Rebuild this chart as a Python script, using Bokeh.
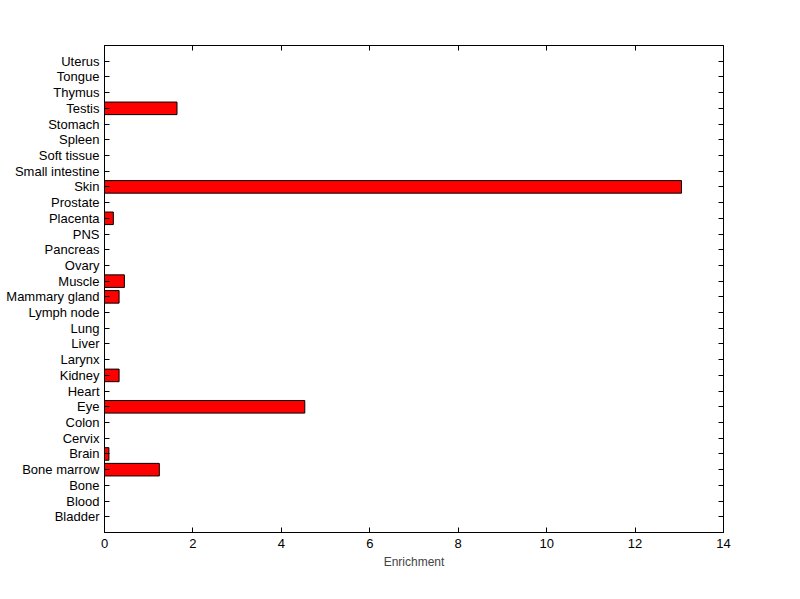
from bokeh.plotting import figure
from bokeh.models import FixedTicker, LinearAxis, Range1d, CustomLabelingPolicy
from bokeh.embed import file_html
from bokeh.resources import INLINE

tissues = ["Bladder", "Blood", "Bone", "Bone marrow", "Brain", "Cervix", "Colon", "Eye",
           "Heart", "Kidney", "Larynx", "Liver", "Lung", "Lymph node", "Mammary gland",
           "Muscle", "Ovary", "Pancreas", "PNS", "Placenta", "Prostate", "Skin",
           "Small intestine", "Soft tissue", "Spleen", "Stomach", "Testis", "Thymus",
           "Tongue", "Uterus"]
enrichment = [0, 0, 0, 1.24, 0.10, 0, 0, 4.53,
              0, 0.33, 0, 0, 0, 0, 0.33,
              0.45, 0, 0, 0, 0.20, 0, 13.05,
              0, 0, 0, 0, 1.64, 0,
              0, 0]
x_ticks = [0, 2, 4, 6, 8, 10, 12, 14]

positions = list(range(1, len(tissues) + 1))

p = figure(width=784, height=583, output_backend="svg", toolbar_location=None,
           x_range=Range1d(0, 14), y_range=Range1d(0, len(tissues) + 1),
           min_border_left=104, min_border_right=61, min_border_top=45, min_border_bottom=51,
           background_fill_color="white", border_fill_color="white")
p.outline_line_color = "black"
p.outline_line_width = 1
p.grid.visible = False

nz_pos = [y for y, v in zip(positions, enrichment) if v > 0]
nz_val = [v for v in enrichment if v > 0]
p.hbar(y=nz_pos, right=nz_val, left=0, height=0.8, fill_color="#ff0000",
       line_color="black", line_width=1)

font = "Liberation Sans"
no_labels = CustomLabelingPolicy(code="""
const a = [...indices];
for (const i of a) { indices.unset(i) }
return indices
""")

def style(ax, labels=True):
    ax.major_tick_in = 5
    ax.major_tick_out = 0
    ax.minor_tick_line_color = None
    ax.axis_line_color = "black"
    ax.major_tick_line_color = "black"
    ax.major_label_text_font = font
    ax.major_label_text_font_size = "13px"
    ax.major_label_text_color = "black"
    ax.major_label_standoff = 6
    if not labels:
        ax.major_label_policy = no_labels

xa = p.xaxis[0]
xa.ticker = FixedTicker(ticks=x_ticks)
xa.axis_label = "Enrichment"
xa.axis_label_text_font = font
xa.axis_label_text_font_size = "12px"
xa.axis_label_text_font_style = "normal"
xa.axis_label_standoff = 4
style(xa)

ya = p.yaxis[0]
ya.ticker = FixedTicker(ticks=positions)
ya.major_label_overrides = {y: t for y, t in zip(positions, tissues)}
style(ya)
ya.major_label_standoff = 5

top = LinearAxis(ticker=FixedTicker(ticks=x_ticks))
style(top, labels=False)
p.add_layout(top, "above")
right = LinearAxis(ticker=FixedTicker(ticks=positions))
style(right, labels=False)
p.add_layout(right, "right")

open("out.html", "w").write(file_html(p, INLINE))
